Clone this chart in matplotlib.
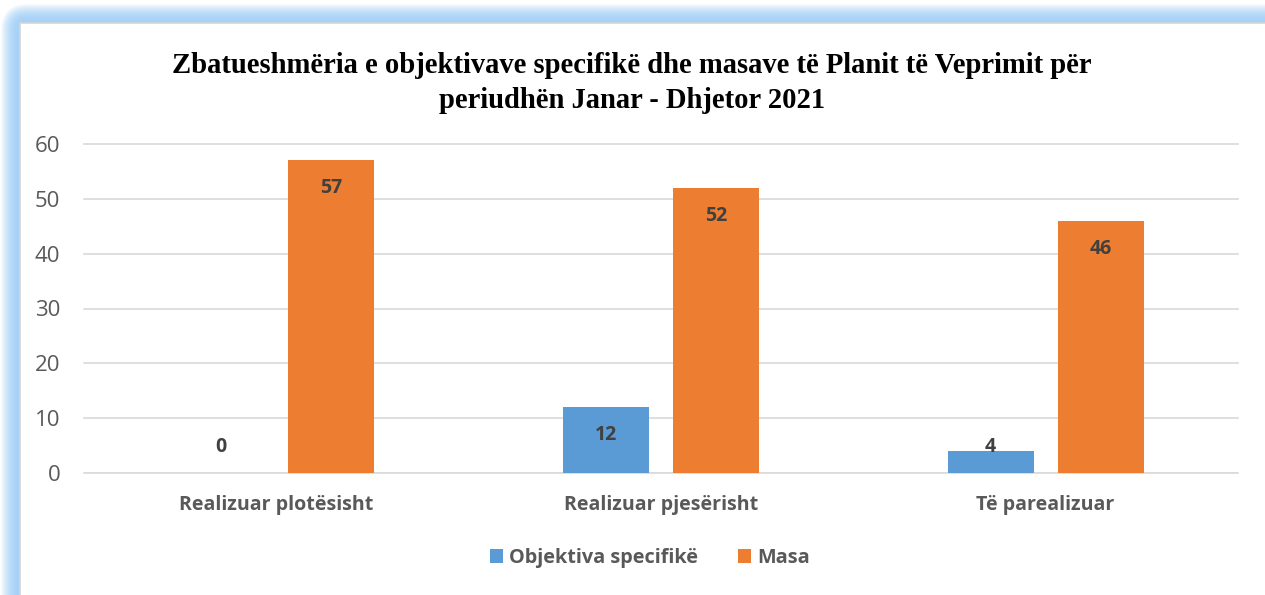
import matplotlib
matplotlib.use("Agg")
import matplotlib.pyplot as plt
import numpy as np
from matplotlib.patches import FancyBboxPatch, Rectangle
from matplotlib.colors import to_rgb

plt.rcParams["font.family"] = ["Open Sans", "DejaVu Sans"]

categories = ["Realizuar plotësisht", "Realizuar pjesërisht", "Të parealizuar"]
objektiva = [0, 12, 4]
masa = [57, 52, 46]
series_names = ["Objektiva specifikë", "Masa"]

title = ("Zbatueshmëria e objektivave specifikë dhe masave të Planit të Veprimit për\n"
         "periudhën Janar - Dhjetor 2021")

blue = "#5B9BD5"
orange = "#ED7D31"
grey_txt = "#595959"
lbl_txt = "#404040"
grid_c = "#D9D9D9"

W, H = 1265, 595
fig = plt.figure(figsize=(W / 100, H / 100), dpi=100)
fig.patch.set_facecolor("white")

# background: glow frame + white panel, in pixel coords
bg = fig.add_axes([0, 0, 1, 1], zorder=-5)
bg.set_xlim(0, W)
bg.set_ylim(H, 0)
bg.axis("off")
inner = np.array(to_rgb("#A6D1F7"))
outer = np.array(to_rgb("#FFFFFF"))
steps = 20
for i in range(steps, 0, -1):
    t = (i / steps) ** 2.2
    col = inner * (1 - t) + outer * t
    d = i
    bg.add_patch(FancyBboxPatch((20 - d, 23 - d), W + 100, H + 100,
                                boxstyle="round,pad=0,rounding_size=%d" % (d + 8),
                                facecolor=col, edgecolor="none"))
bg.add_patch(Rectangle((20, 23), W, H, facecolor="white", edgecolor="#D6D6D6", lw=1.2))

ax = fig.add_axes([84 / W, (H - 473) / H, (1238 - 84) / W, (473 - 144) / H])
ax.patch.set_alpha(0)

x = np.arange(len(categories))
w = 0.223
off = 0.143
b1 = ax.bar(x - off, objektiva, w, color=blue, label=series_names[0], zorder=3)
b2 = ax.bar(x + off, masa, w, color=orange, label=series_names[1], zorder=3)

for bars, vals in ((b1, objektiva), (b2, masa)):
    for rect, v in zip(bars, vals):
        ax.text(rect.get_x() + rect.get_width() / 2, max(v - 5.1, 4.7), str(v),
                ha="center", va="center", fontsize=14, fontweight="bold",
                color=lbl_txt, zorder=4)

ax.set_xlim(-0.5, 2.5)
ax.set_ylim(0, 60)
ax.set_yticks(range(0, 61, 10))
ax.yaxis.grid(True, color=grid_c, lw=1.2, zorder=0)
ax.set_axisbelow(True)
for s in ax.spines.values():
    s.set_visible(False)
ax.axhline(0, color=grid_c, lw=1.2, zorder=1)
ax.tick_params(axis="both", length=0, colors=grey_txt)
ax.tick_params(axis="y", pad=17, labelsize=16)
ax.tick_params(axis="x", pad=16)
ax.set_xticks(x)
ax.set_xticklabels(categories, fontweight="bold", fontsize=14.1)
for gl in ax.get_ygridlines():
    gl.set_clip_on(False)

fig.text(632 / W, 1 - 83 / H, title, ha="center", va="center",
         fontsize=20.6, fontweight="bold", family="Liberation Serif",
         linespacing=1.4, color="black")

leg = fig.legend(handles=[b1, b2], labels=series_names, loc="center",
                 bbox_to_anchor=(650 / W, 1 - 558 / H), ncol=2, frameon=False,
                 handlelength=0.65, handleheight=0.65, handletextpad=0.3,
                 columnspacing=2.0, prop={"weight": "bold", "size": 14.3})
for t in leg.get_texts():
    t.set_color(grey_txt)

fig.savefig("out.png", dpi=100)
